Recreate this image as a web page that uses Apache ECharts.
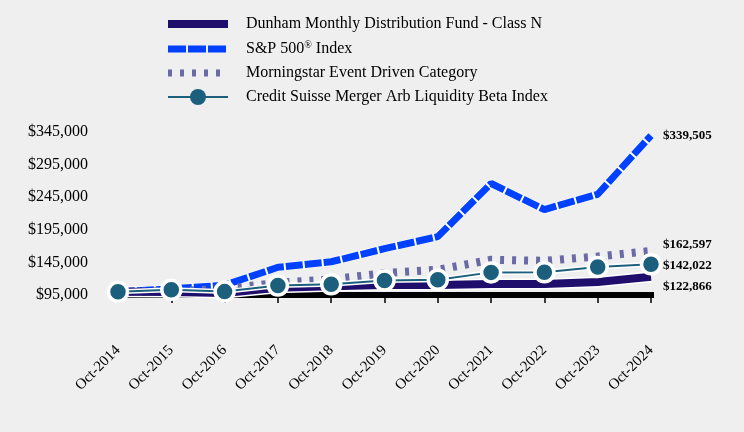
<!DOCTYPE html>
<html>
<head>
<meta charset="utf-8">
<script src="https://cdn.jsdelivr.net/npm/echarts@6/dist/echarts.min.js"></script>
<style>
  html, body { margin: 0; padding: 0; background: #efefef; }
  #chart { width: 744px; height: 432px; }
</style>
</head>
<body>
<div id="chart"></div>
<script>
const categories = ['Oct-2014','Oct-2015','Oct-2016','Oct-2017','Oct-2018','Oct-2019','Oct-2020','Oct-2021','Oct-2022','Oct-2023','Oct-2024'];
const dunham = [100000, 99500, 98000, 106000, 108500, 110500, 110500, 112000, 112000, 115000, 122866];
const sp500 = [100000, 104500, 110000, 137500, 146000, 166000, 184500, 266000, 226000, 249500, 339505];
const morningstar = [100000, 101000, 104000, 114000, 119000, 128500, 133800, 149000, 147500, 154000, 162597];
const creditSuisse = [100000, 103000, 100200, 109500, 111600, 117200, 118300, 129700, 130000, 138000, 142022];
const yTicks = { min: 95000, max: 345000, step: 50000 };

const names = {
  dunham: 'Dunham Monthly Distribution Fund - Class N',
  sp: 'S&P 500® Index',
  ms: 'Morningstar Event Driven Category',
  cs: 'Credit Suisse Merger Arb Liquidity Beta Index'
};
const colors = { dunham: '#1f0e6c', sp: '#0040ff', ms: '#6a6aa6', cs: '#1b5f7c' };
const serif = "'Liberation Serif', 'Times New Roman', serif";
const money = v => '$' + Math.round(v).toLocaleString('en-US');

function endLabel(dy) {
  return {
    show: true,
    formatter: p => money(p.value),
    fontFamily: serif, fontWeight: 'bold', fontSize: 13, color: '#000',
    distance: 12, offset: [0, dy]
  };
}

const chart = echarts.init(document.getElementById('chart'), null, { renderer: 'canvas' });
chart.setOption({
  animation: false,
  backgroundColor: '#efefef',
  grid: { left: 118, right: 93, top: 132, bottom: 137, containLabel: false },
  legend: {
    left: 164, top: 16, orient: 'vertical', padding: 0,
    itemWidth: 60, itemHeight: 20, itemGap: 8,
    textStyle: { fontFamily: serif, fontSize: 16, color: '#000', padding: [0, 0, 0, 13],
      rich: { sup: { fontFamily: serif, fontSize: 10, verticalAlign: 'top', padding: [0, 0, 8, 0], color: '#000' } } },
    formatter: n => n === names.sp ? 'S&P 500{sup|®} Index' : n,
    data: [
      { name: names.dunham, lineStyle: { width: 8, color: colors.dunham, type: 'solid' }, itemStyle: { opacity: 0, borderWidth: 0 } },
      { name: names.sp, lineStyle: { width: 7, color: colors.sp, type: [18, 2] }, itemStyle: { opacity: 0, borderWidth: 0 } },
      { name: names.ms, lineStyle: { width: 7, color: colors.ms, type: [4, 8] }, itemStyle: { opacity: 0, borderWidth: 0 } },
      { name: names.cs, lineStyle: { width: 2, color: colors.cs, type: 'solid' }, itemStyle: { color: colors.cs, borderWidth: 0 } }
    ]
  },
  xAxis: {
    type: 'category', data: categories, boundaryGap: false,
    axisLine: { show: true, lineStyle: { color: '#000', width: 6, cap: 'square' } },
    axisTick: { show: true, length: 8, lineStyle: { color: '#000', width: 1.5 } },
    axisLabel: { rotate: 45, margin: 53, fontFamily: serif, fontSize: 15, color: '#000', interval: 0 },
    splitLine: { show: false }
  },
  yAxis: {
    type: 'value', min: yTicks.min, max: yTicks.max, interval: yTicks.step,
    axisLine: { show: false }, axisTick: { show: false }, splitLine: { show: false },
    axisLabel: { formatter: v => money(v), margin: 30, fontFamily: serif, fontSize: 16, color: '#000' }
  },
  series: [
    { name: 'dunham-halo', type: 'line', data: dunham, symbol: 'none', silent: true, z: 1,
      lineStyle: { color: '#ffffff', width: 11 } },
    { name: 'sp-halo', type: 'line', data: sp500, symbol: 'none', silent: true, z: 2,
      lineStyle: { color: '#ffffff', width: 8 } },
    { name: names.sp, type: 'line', data: sp500, symbol: 'none', z: 3,
      lineStyle: { color: colors.sp, width: 7, type: [17, 2] }, itemStyle: { color: colors.sp },
      endLabel: endLabel(0) },
    { name: names.ms, type: 'line', data: morningstar, symbol: 'none', z: 4,
      lineStyle: { color: colors.ms, width: 8, type: [4, 8] }, itemStyle: { color: colors.ms },
      endLabel: endLabel(-6) },
    { name: names.dunham, type: 'line', data: dunham, symbol: 'none', z: 5,
      lineStyle: { color: colors.dunham, width: 8 }, itemStyle: { color: colors.dunham },
      endLabel: endLabel(10) },
    { name: 'cs-halo', type: 'line', data: creditSuisse, symbol: 'none', silent: true, z: 6,
      lineStyle: { color: '#ffffff', width: 5 } },
    { name: names.cs, type: 'line', data: creditSuisse, symbol: 'circle', symbolSize: 19, showSymbol: true, z: 7,
      lineStyle: { color: colors.cs, width: 2 },
      itemStyle: { color: colors.cs, borderColor: '#ffffff', borderWidth: 3.5 },
      endLabel: endLabel(1) }
  ]
});
</script>
</body>
</html>
